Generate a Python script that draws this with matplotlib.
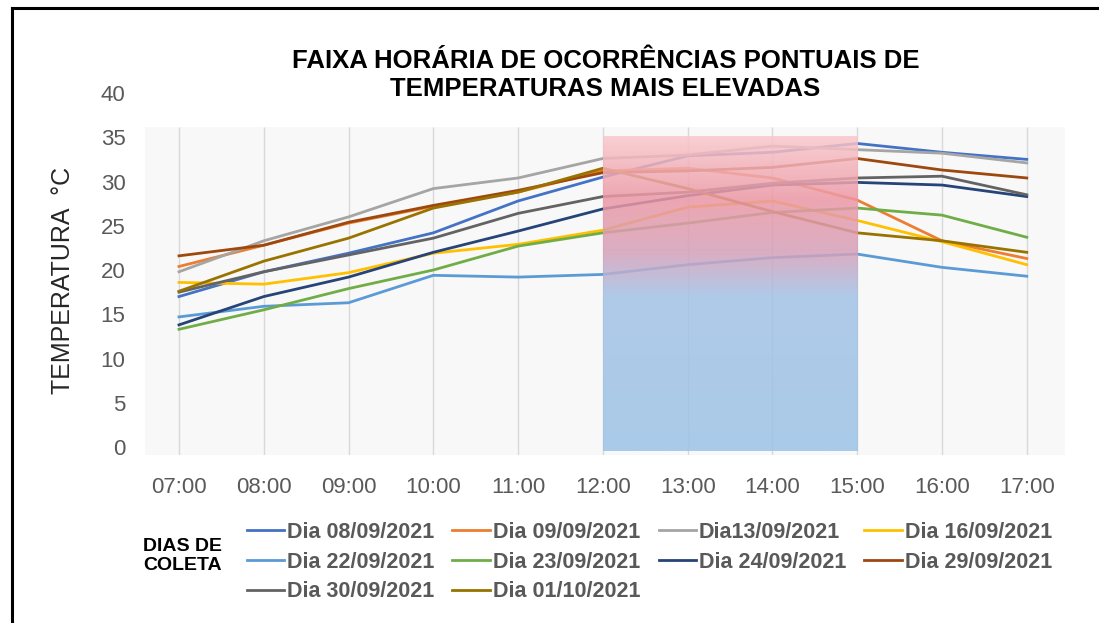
import matplotlib.pyplot as plt
import numpy as np
from matplotlib.lines import Line2D
from matplotlib.patches import Rectangle

plt.rcParams['font.family'] = ['Liberation Sans', 'DejaVu Sans']

hours = ["07:00", "08:00", "09:00", "10:00", "11:00", "12:00",
         "13:00", "14:00", "15:00", "16:00", "17:00"]

d0809 = [17.0, 19.8, 21.9, 24.2, 27.8, 30.5, 32.9, 33.3, 34.3, 33.3, 32.5]
d0909 = [20.4, 22.8, 25.3, 27.2, 28.8, 31.2, 31.5, 30.4, 27.9, 23.3, 21.3]
d1309 = [19.8, 23.3, 26.0, 29.2, 30.4, 32.6, 33.0, 34.0, 33.6, 33.2, 32.1]
d1609 = [18.6, 18.4, 19.7, 21.9, 22.9, 24.5, 27.1, 27.8, 25.6, 23.2, 20.6]
d2209 = [14.7, 15.9, 16.3, 19.4, 19.2, 19.5, 20.6, 21.4, 21.8, 20.3, 19.3]
d2309 = [13.3, 15.5, 17.9, 20.0, 22.7, 24.2, 25.3, 26.5, 27.0, 26.2, 23.7]
d2409 = [13.8, 17.0, 19.2, 22.0, 24.4, 26.9, 28.4, 29.6, 29.9, 29.6, 28.3]
d2909 = [21.6, 22.8, 25.4, 27.3, 29.0, 31.0, 31.2, 31.6, 32.6, 31.3, 30.4]
d3009 = [17.5, 19.8, 21.7, 23.6, 26.4, 28.3, 28.8, 29.8, 30.4, 30.6, 28.5]
d0110 = [17.6, 21.0, 23.6, 27.0, 28.8, 31.5, 29.2, 26.6, 24.2, 23.3, 22.0]

series = [
    ("Dia 08/09/2021", d0809, "#4472C4"),
    ("Dia 09/09/2021", d0909, "#ED7D31"),
    ("Dia13/09/2021", d1309, "#A5A5A5"),
    ("Dia 16/09/2021", d1609, "#FFC000"),
    ("Dia 22/09/2021", d2209, "#5B9BD5"),
    ("Dia 23/09/2021", d2309, "#70AD47"),
    ("Dia 24/09/2021", d2409, "#264478"),
    ("Dia 29/09/2021", d2909, "#9E480E"),
    ("Dia 30/09/2021", d3009, "#636363"),
    ("Dia 01/10/2021", d0110, "#997300"),
]

# highlighted hour range (index of 12:00 to 15:00) and its top temperature
band_start, band_end, band_top = 5, 8, 35

fig = plt.figure(figsize=(10.99, 6.23), dpi=100)
ax = fig.add_axes([0.132, 0.2697, 0.837, 0.581])
ax.set_facecolor("none")

x = np.arange(len(hours))
ymin, ymax = -0.9, 40

# plot-area background and category gridlines (stop below the 40 label)
ax.add_patch(Rectangle((-0.4, ymin), 10.85, 36.2 - ymin, facecolor="#f8f8f8",
                       edgecolor="none", zorder=0))
ax.vlines(x, ymin, 36.2, color="#d9d9d9", lw=1, zorder=1)

handles = {}
for name, vals, col in series:
    ln, = ax.plot(x, vals, color=col, lw=2.0, label=name, zorder=3)
    handles[name] = ln

# gradient band pink -> blue
stops_v = np.array([-0.5, 17, 22, 28, 35])
stops_c = np.array([
    [155, 195, 230],
    [163, 194, 230],
    [214, 160, 185],
    [236, 152, 165],
    [249, 200, 204],
]) / 255.0
vv = np.linspace(-0.5, band_top, 200)
grad = np.zeros((200, 1, 4))
for k in range(3):
    grad[:, 0, k] = np.interp(vv, stops_v, stops_c[:, k])
grad[:, 0, 3] = 0.85
ax.imshow(grad, extent=(band_start, band_end, -0.5, band_top), origin="lower",
          aspect="auto", zorder=4, interpolation="bilinear")

ax.set_xlim(-0.4, 10.45)
ax.set_ylim(ymin, ymax)
ax.set_xticks(x)
ax.set_xticklabels(hours)
ax.set_yticks(range(0, 41, 5))
for s in ax.spines.values():
    s.set_visible(False)
ax.tick_params(length=0, labelsize=16, labelcolor="#595959")
ax.tick_params(axis="y", pad=14)
ax.tick_params(axis="x", pad=16)

fig.text(0.551, 0.88, "FAIXA HORÁRIA DE OCORRÊNCIAS PONTUAIS DE\nTEMPERATURAS MAIS ELEVADAS",
         ha="center", va="center", fontsize=18.5, fontweight="bold", linespacing=1.2)
fig.text(0.057, 0.55, "TEMPERATURA  °C", rotation=90, ha="center", va="center",
         fontsize=18, color="#262626")

order = ["Dia 08/09/2021", "Dia 22/09/2021", "Dia 30/09/2021",
         "Dia 09/09/2021", "Dia 23/09/2021", "Dia 01/10/2021",
         "Dia13/09/2021", "Dia 24/09/2021",
         "Dia 16/09/2021", "Dia 29/09/2021"]
leg = fig.legend([handles[n] for n in order], order, ncol=4, loc="upper left",
                 bbox_to_anchor=(0.2165, 0.176), frameon=False,
                 prop={"size": 15.5, "weight": "bold"}, handlelength=1.75,
                 handletextpad=0.12, columnspacing=0.85, labelspacing=0.4,
                 borderaxespad=0)
for t in leg.get_texts():
    t.set_color("#595959")

fig.text(0.166, 0.107, "DIAS DE\nCOLETA", ha="center", va="center",
         fontsize=14, fontweight="bold", linespacing=1.15)

# black frame on left and top edges
fig.add_artist(Line2D([0.0105, 0.0105], [0.0, 0.987], color="black", lw=2.2))
fig.add_artist(Line2D([0.0105, 1.0], [0.987, 0.987], color="black", lw=2.2))

fig.savefig("out.png", dpi=100)
